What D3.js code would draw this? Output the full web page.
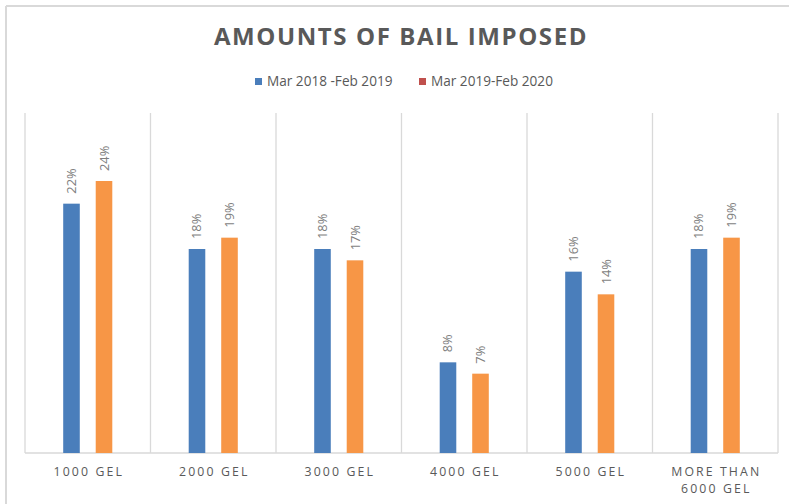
<!DOCTYPE html>
<html>
<head>
<meta charset="utf-8">
<script src="https://cdn.jsdelivr.net/npm/d3@7"></script>
<style>
  html, body { margin: 0; padding: 0; background: #fff; }
  svg { display: block; font-family: "Open Sans", "Liberation Sans", sans-serif; }
</style>
</head>
<body>
<svg id="chart" width="789" height="504"></svg>
<script>
// Bail amount brackets and share of cases (%) per period
const categories = ["1000 GEL", "2000 GEL", "3000 GEL", "4000 GEL", "5000 GEL", "MORE THAN 6000 GEL"];
const categoryLines = [["1000 GEL"], ["2000 GEL"], ["3000 GEL"], ["4000 GEL"], ["5000 GEL"], ["MORE THAN", "6000 GEL"]];
const seriesNames = ["Mar 2018 -Feb 2019", "Mar 2019-Feb 2020"];
const period1 = [22, 18, 18, 8, 16, 18];
const period2 = [24, 19, 17, 7, 14, 19];
const barColors = ["#4a7ebb", "#f79646"];
const legendColors = ["#4a7ebb", "#c0504d"];

const svg = d3.select("#chart");
const W = 789, H = 504;
const plot = { left: 25, right: 778, top: 113, bottom: 453 };

// outer frame (top and left edges visible)
svg.append("line").attr("x1", 6).attr("x2", W).attr("y1", 6).attr("y2", 6)
  .attr("stroke", "#d9d9d9").attr("stroke-width", 2);
svg.append("line").attr("x1", 6).attr("x2", 6).attr("y1", 6).attr("y2", H)
  .attr("stroke", "#d9d9d9").attr("stroke-width", 2);

// title
svg.append("text")
  .attr("x", 401).attr("y", 45)
  .attr("text-anchor", "middle")
  .attr("font-size", 24).attr("font-weight", 700)
  .attr("letter-spacing", 1.6)
  .attr("fill", "#595959")
  .text("AMOUNTS OF BAIL IMPOSED");

// legend
const legendX = [255, 419];
seriesNames.forEach((name, i) => {
  const g = svg.append("g").attr("transform", `translate(${legendX[i]},0)`);
  g.append("rect").attr("x", 0).attr("y", 78).attr("width", 7).attr("height", 7)
    .attr("fill", legendColors[i]);
  g.append("text").attr("x", 12).attr("y", 86)
    .attr("font-size", 13.6).attr("fill", "#595959")
    .text(name);
});

// scales
const x0 = d3.scaleBand().domain(categories).range([plot.left, plot.right]).padding(0);
const x1 = d3.scaleBand().domain(seriesNames).range([0, x0.bandwidth()])
  .paddingInner(0.49).paddingOuter(1.175);
const y = d3.scaleLinear().domain([0, 30]).range([plot.bottom, plot.top]);

// vertical separators between categories
const bounds = categories.map(c => x0(c)).concat([plot.right]);
svg.append("g").selectAll("line").data(bounds).join("line")
  .attr("x1", d => d).attr("x2", d => d)
  .attr("y1", plot.top).attr("y2", plot.bottom)
  .attr("stroke", "#d9d9d9").attr("stroke-width", 1.3);

// baseline
svg.append("line").attr("x1", plot.left).attr("x2", plot.right)
  .attr("y1", plot.bottom).attr("y2", plot.bottom)
  .attr("stroke", "#d9d9d9").attr("stroke-width", 1.3);

// bars and rotated value labels
const rows = categories.map((c, i) => ({ cat: c, vals: [period1[i], period2[i]] }));
const groups = svg.append("g").selectAll("g").data(rows).join("g")
  .attr("transform", d => `translate(${x0(d.cat)},0)`);

groups.selectAll("rect").data(d => d.vals.map((v, k) => ({ v, k })))
  .join("rect")
  .attr("x", d => x1(seriesNames[d.k]))
  .attr("y", d => y(d.v))
  .attr("width", x1.bandwidth())
  .attr("height", d => y(0) - y(d.v))
  .attr("fill", d => barColors[d.k]);

groups.selectAll("text.val").data(d => d.vals.map((v, k) => ({ v, k })))
  .join("text")
  .attr("class", "val")
  .attr("transform", d => `translate(${x1(seriesNames[d.k]) + x1.bandwidth() / 2 + 4.5},${y(d.v) - 10}) rotate(-90)`)
  .attr("font-size", 12.8).attr("fill", "#7f7f7f")
  .text(d => d.v + "%");

// category labels
const xAxis = svg.append("g");
categoryLines.forEach((lines, i) => {
  const t = xAxis.append("text")
    .attr("x", x0(categories[i]) + x0.bandwidth() / 2)
    .attr("text-anchor", "middle")
    .attr("font-size", 12.3).attr("letter-spacing", 2.1)
    .attr("fill", "#595959");
  lines.forEach((ln, j) => {
    t.append("tspan").attr("x", x0(categories[i]) + x0.bandwidth() / 2 + 1)
      .attr("y", 476 + j * 17).text(ln);
  });
});
</script>
</body>
</html>
